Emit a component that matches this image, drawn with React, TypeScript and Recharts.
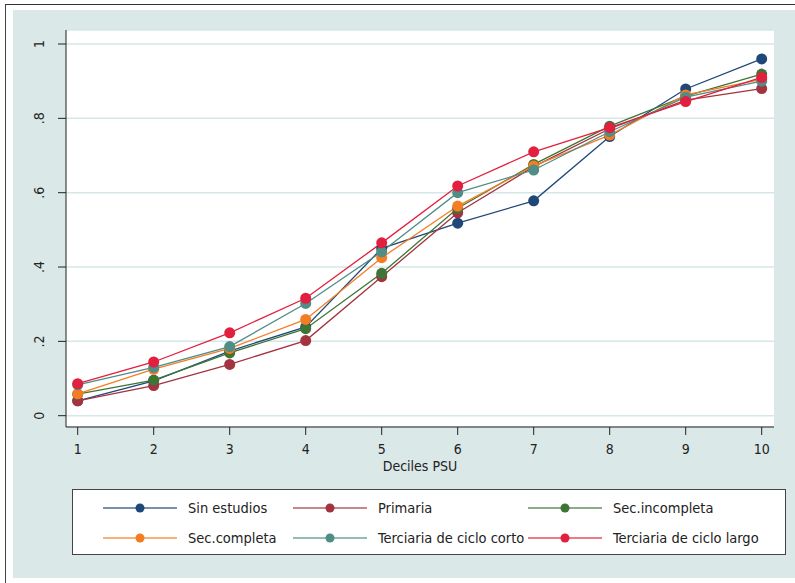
import React from 'react';
import { LineChart, Line, XAxis, YAxis, CartesianGrid } from 'recharts';

const deciles = [1, 2, 3, 4, 5, 6, 7, 8, 9, 10];
const yTicks = [0, 0.2, 0.4, 0.6, 0.8, 1];
const yTickLabels = ['0', '.2', '.4', '.6', '.8', '1'];

const sinEstudios = [0.04, 0.094, 0.174, 0.239, 0.45, 0.518, 0.578, 0.751, 0.879, 0.96];
const primaria = [0.04, 0.081, 0.138, 0.202, 0.374, 0.546, 0.67, 0.772, 0.849, 0.88];
const secIncompleta = [0.058, 0.096, 0.169, 0.234, 0.383, 0.558, 0.676, 0.779, 0.86, 0.919];
const secCompleta = [0.059, 0.125, 0.181, 0.259, 0.425, 0.564, 0.672, 0.755, 0.863, 0.905];
const terciariaCorto = [0.083, 0.13, 0.186, 0.302, 0.441, 0.6, 0.661, 0.764, 0.857, 0.9];
const terciariaLargo = [0.086, 0.1445, 0.223, 0.316, 0.465, 0.618, 0.71, 0.775, 0.845, 0.91];

const series = [
  { key: 'sin', name: 'Sin estudios', values: sinEstudios, color: '#1f4878' },
  { key: 'pri', name: 'Primaria', values: primaria, color: '#a2333f' },
  { key: 'sei', name: 'Sec.incompleta', values: secIncompleta, color: '#3e7535' },
  { key: 'sec', name: 'Sec.completa', values: secCompleta, color: '#f47d23' },
  { key: 'tcc', name: 'Terciaria de ciclo corto', values: terciariaCorto, color: '#4f8d87' },
  { key: 'tcl', name: 'Terciaria de ciclo largo', values: terciariaLargo, color: '#e21f3e' },
];

const data = deciles.map((d, i) => {
  const row: any = { decile: d };
  series.forEach((s) => (row[s.key] = s.values[i]));
  return row;
});

const font = "'Liberation Sans Narrow', 'DejaVu Sans Condensed', 'Roboto', sans-serif";
const bg = '#dae8e8';

const YTick = (props: any) => {
  const { y, payload } = props;
  const i = yTicks.indexOf(payload.value);
  return (
    <text
      x={44}
      y={y}
      transform={`rotate(-90, 44, ${y})`}
      textAnchor="middle"
      fontSize={14}
      fontFamily={font}
      fill="#222"
    >
      {i >= 0 ? yTickLabels[i] : payload.value}
    </text>
  );
};

const XTick = (props: any) => {
  const { x, payload } = props;
  return (
    <text x={x} y={454} textAnchor="middle" fontSize={14} fontFamily={font} fill="#222">
      {payload.value}
    </text>
  );
};

const legendCols = [103, 293, 528];

export default function App() {
  return (
    <div style={{ position: 'absolute', left: 0, top: 0, width: 795, height: 583, background: '#fff', overflow: 'hidden' }}>
      <div style={{ position: 'absolute', left: 5, top: 4, width: 790, height: 579, borderLeft: '1.5px solid #444', borderTop: '1.5px solid #333' }} />
      <div style={{ position: 'absolute', left: 13, top: 10, width: 782, height: 568, background: bg }} />
      <div style={{ position: 'absolute', left: 0, top: 0 }}>
        <LineChart width={795} height={583} data={data} margin={{ top: 30, right: 21, bottom: 112, left: 6 }}>
          <CartesianGrid vertical={false} fill="#fff" fillOpacity={1} stroke="#d6e7e7" strokeWidth={1.5} />
          <XAxis
            dataKey="decile"
            type="number"
            domain={[0.846, 10.162]}
            ticks={deciles}
            allowDataOverflow
            tickSize={8}
            height={44}
            stroke="#222"
            tick={<XTick />}
            label={{ value: 'Deciles PSU', position: 'insideBottom', offset: 0, fontSize: 14, fontFamily: font, fill: '#222' }}
          />
          <YAxis
            type="number"
            domain={[-0.0304, 1.0377]}
            ticks={yTicks}
            allowDataOverflow
            tickSize={8}
            width={60}
            stroke="#222"
            tick={<YTick />}
          />
          {series.map((s) => (
            <Line
              key={s.key}
              dataKey={s.key}
              name={s.name}
              stroke={s.color}
              strokeWidth={1.3}
              dot={{ r: 5.5, fill: s.color, stroke: s.color, strokeWidth: 0 }}
              activeDot={false}
              isAnimationActive={false}
            />
          ))}
        </LineChart>
      </div>
      <div
        style={{
          position: 'absolute',
          left: 72,
          top: 489,
          width: 712,
          height: 64,
          background: '#fff',
          border: '1px solid #444',
          fontFamily: font,
          fontSize: 14.5,
          color: '#222',
        }}
      >
        {series.map((s, i) => {
          const col = i % 3;
          const row = Math.floor(i / 3);
          const left = legendCols[col] - 73;
          const top = row * 30 + 6;
          return (
            <div key={s.key} style={{ position: 'absolute', left, top, height: 24, display: 'flex', alignItems: 'center' }}>
              <svg width={74} height={24}>
                <line x1={0} y1={12} x2={74} y2={12} stroke={s.color} strokeOpacity={0.6} strokeWidth={2} />
                <circle cx={37} cy={12} r={4.5} fill={s.color} />
              </svg>
              <span style={{ marginLeft: 11, whiteSpace: 'nowrap' }}>{s.name}</span>
            </div>
          );
        })}
      </div>
    </div>
  );
}
